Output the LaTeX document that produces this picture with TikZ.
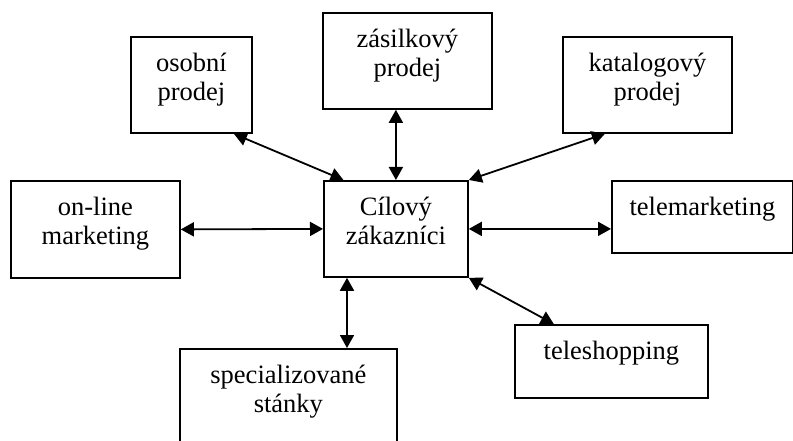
\documentclass[tikz,border=0pt]{standalone}
\usepackage{fontspec}
\setmainfont{Liberation Serif}
\usetikzlibrary{arrows.meta,calc}
\tikzset{
  box/.style={draw=black,line width=1.8pt,anchor=north west,align=center,
    inner sep=0pt,text height=35pt,font=\fontsize{26.5}{29}\selectfont},
  twoline/.style={box,text height=64pt},
  link/.style={{Triangle[length=13pt,width=14pt]}-{Triangle[length=13pt,width=14pt]},
    draw=black,line width=1.8pt}
}
\begin{document}
\begin{tikzpicture}[x=1pt,y=-1pt]
      \useasboundingbox (0,0) rectangle (793,441);
      \clip (0,0) rectangle (793,441);
      \node[twoline,minimum width=121pt,text depth=32pt] (osobni) at (130,36) {osobní\\prodej};
      \node[twoline,minimum width=169pt,text depth=32pt] (zasilkovy) at (322,12) {zásilkový\\prodej};
      \node[twoline,minimum width=169pt,text depth=32pt] (katalogovy) at (562,36) {katalogový\\prodej};
      \node[twoline,minimum width=169pt,text depth=33pt] (online) at (10,180) {on-line\\marketing};
      \node[twoline,minimum width=144pt,text depth=32pt] (cilovy) at (323,180) {Cílový\\zákazníci};
      \node[box,minimum width=181pt,text depth=37pt] (telemarketing) at (611,180) {telemarketing};
      \node[box,minimum width=193pt,text depth=38pt] (teleshopping) at (514,324) {teleshopping};
      \node[twoline,minimum width=217pt,text depth=33pt] (stanky) at (179,348) {specializované\\stánky};
      \draw[link] (osobni.-49) -- (cilovy.137);
      \draw[link] (cilovy.north) -- (cilovy.north |- zasilkovy.south);
      \draw[link] (katalogovy.-131) -- (cilovy.north east);
      \draw[link] (online.east) -- (cilovy.west);
      \draw[link] (cilovy.east) -- (cilovy.east -| telemarketing.west);
      \draw[link] (cilovy.south east) -- (teleshopping.147);
      \draw[link] (cilovy.-135) -- (cilovy.-135 |- stanky.north);
    \end{tikzpicture}
\end{document}
